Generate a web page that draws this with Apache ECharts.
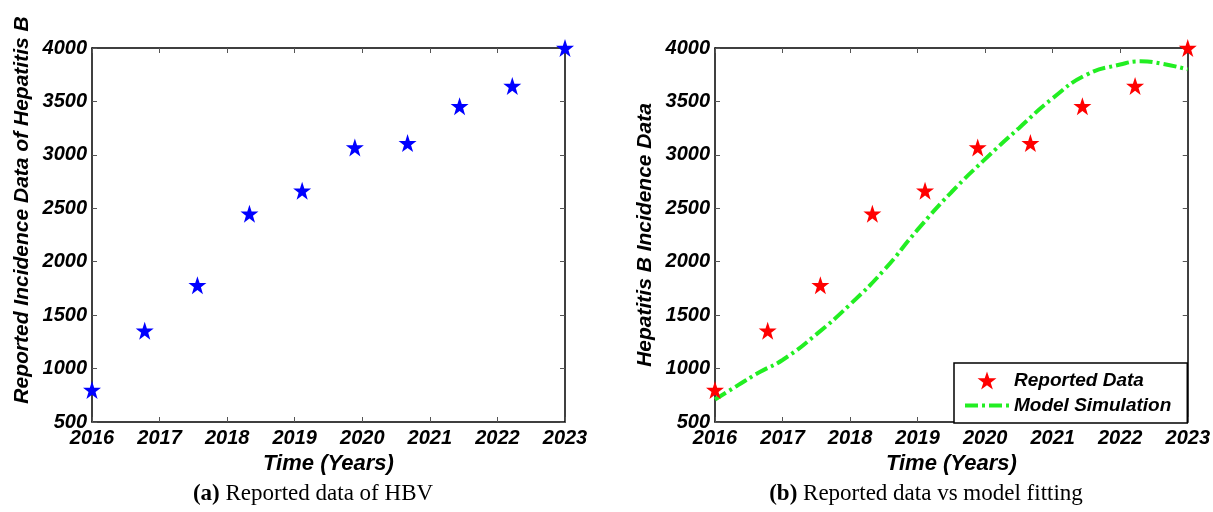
<!DOCTYPE html>
<html>
<head>
<meta charset="utf-8">
<script src="https://cdn.jsdelivr.net/npm/echarts@6/dist/echarts.min.js"></script>
<style>
html,body{margin:0;padding:0;background:#fff;}
#chart{width:1213px;height:512px;}
</style>
</head>
<body>
<div id="chart"></div>
<script>
// ---- data ----
const reportedYears = [2016, 2016.78, 2017.56, 2018.33, 2019.11, 2019.89, 2020.67, 2021.44, 2022.22, 2023];
const reportedValues = [800, 1355, 1780, 2450, 2665, 3070, 3110, 3455, 3645, 4000];
const modelYears = [2016, 2016.33, 2016.67, 2017.0, 2017.5, 2018.0, 2018.5, 2019.0, 2019.5, 2020.0, 2020.5, 2021.0, 2021.5, 2022.0, 2022.3, 2022.6, 2023];
const modelValues = [710, 840, 970, 1080, 1320, 1600, 1920, 2300, 2650, 2960, 3250, 3530, 3750, 3845, 3875, 3855, 3800];
const xTicks = [2016, 2017, 2018, 2019, 2020, 2021, 2022, 2023];
const yTicks = [500, 1000, 1500, 2000, 2500, 3000, 3500, 4000];
const xTitle = 'Time (Years)';
const yTitleA = 'Reported Incidence Data of Hepatitis B';
const yTitleB = 'Hepatitis B Incidence Data';
const seriesNames = ['Reported Data', 'Model Simulation'];
const captionA = ['(a)', 'Reported data of HBV'];
const captionB = ['(b)', 'Reported data vs model fitting'];

// ---- chart ----
const FONT = 'Liberation Sans';
const STAR = 'path://M50,0 L61.8,35.3 L98.9,35.5 L69.1,57.6 L80.3,93.1 L50,71.6 L19.7,93.1 L30.9,57.6 L1.1,35.5 L38.2,35.3 Z';
const lblStyle = {fontFamily: FONT, fontStyle: 'italic', fontWeight: 'bold', fontSize: 20, color: '#000'};
const pair = (xs, ys) => xs.map((x, i) => [x, ys[i]]);

function xAx(grid, pos, withName) {
  return {
    type: 'value', gridIndex: grid, position: pos,
    min: xTicks[0], max: xTicks[xTicks.length - 1], interval: 1,
    axisLine: {show: true, onZero: false, lineStyle: {color: '#000', width: 1.5}},
    axisTick: {show: true, inside: true, length: 5, lineStyle: {color: '#555', width: 1}},
    axisLabel: Object.assign({show: pos === 'bottom', margin: 6, formatter: v => String(v)}, lblStyle),
    splitLine: {show: false},
    name: withName ? xTitle : '',
    nameLocation: 'middle', nameGap: 29,
    nameTextStyle: {fontFamily: FONT, fontStyle: 'italic', fontWeight: 'bold', fontSize: 22, color: '#000'}
  };
}
function yAx(grid, pos, name, pad) {
  return {
    type: 'value', gridIndex: grid, position: pos,
    min: yTicks[0], max: yTicks[yTicks.length - 1], interval: 500,
    axisLine: {show: true, onZero: false, lineStyle: {color: '#000', width: 1.5}},
    axisTick: {show: true, inside: true, length: 5, lineStyle: {color: '#555', width: 1}},
    axisLabel: Object.assign({show: pos === 'left', margin: 5, formatter: v => String(v)}, lblStyle),
    splitLine: {show: false},
    name: name || '',
    nameLocation: 'middle', nameGap: 59,
    nameTextStyle: {fontFamily: FONT, fontStyle: 'italic', fontWeight: 'bold', fontSize: 21, color: '#000', padding: pad || 0}
  };
}

const chart = echarts.init(document.getElementById('chart'), null, {renderer: 'canvas'});
chart.setOption({
  backgroundColor: '#fff',
  animation: false,
  grid: [
    {left: 92, top: 48, width: 473, height: 374},
    {left: 715, top: 48, width: 473, height: 374}
  ],
  xAxis: [xAx(0, 'bottom', true), xAx(0, 'top', false), xAx(1, 'bottom', true), xAx(1, 'top', false)],
  yAxis: [yAx(0, 'left', yTitleA, [0, 0, 0, 50]), yAx(0, 'right', ''), yAx(1, 'left', yTitleB), yAx(1, 'right', '')],
  legend: {
    data: seriesNames,
    orient: 'vertical',
    left: 954, top: 363,
    padding: [8, 16, 8, 9],
    itemWidth: 44, itemHeight: 18, itemGap: 6,
    borderColor: '#000', borderWidth: 1.5, backgroundColor: '#fff',
    align: 'left',
    lineStyle: {width: 4},
    textStyle: {fontFamily: FONT, fontStyle: 'italic', fontWeight: 'bold', fontSize: 19, color: '#000'}
  },
  series: [
    {
      type: 'scatter', name: 'HBV', xAxisIndex: 0, yAxisIndex: 0,
      data: pair(reportedYears, reportedValues),
      symbol: STAR, symbolSize: 18, clip: false,
      itemStyle: {color: '#0000ff', opacity: 1}, z: 3
    },
    {
      type: 'line', name: seriesNames[1], xAxisIndex: 2, yAxisIndex: 2,
      data: pair(modelYears, modelValues),
      smooth: true, symbol: 'none', showSymbol: false,
      itemStyle: {color: 'rgba(0,0,0,0)', borderWidth: 0},
      lineStyle: {color: '#22ee22', width: 4, type: [13, 4, 3, 4]}, z: 2
    },
    {
      type: 'scatter', name: seriesNames[0], xAxisIndex: 2, yAxisIndex: 2,
      data: pair(reportedYears, reportedValues),
      symbol: STAR, symbolSize: 18, clip: false,
      itemStyle: {color: '#ff0000', opacity: 1}, z: 3
    }
  ],
  graphic: [
    {type: 'text', x: 313, y: 494, style: {
      text: '{b|' + captionA[0] + '} ' + captionA[1], textAlign: 'center', textVerticalAlign: 'middle',
      fontFamily: 'Liberation Serif', fontSize: 23, fill: '#000',
      rich: {b: {fontFamily: 'Liberation Serif', fontSize: 23, fontWeight: 'bold', fill: '#000'}}
    }},
    {type: 'text', x: 926, y: 494, style: {
      text: '{b|' + captionB[0] + '} ' + captionB[1], textAlign: 'center', textVerticalAlign: 'middle',
      fontFamily: 'Liberation Serif', fontSize: 23, fill: '#000',
      rich: {b: {fontFamily: 'Liberation Serif', fontSize: 23, fontWeight: 'bold', fill: '#000'}}
    }}
  ]
});
</script>
</body>
</html>
